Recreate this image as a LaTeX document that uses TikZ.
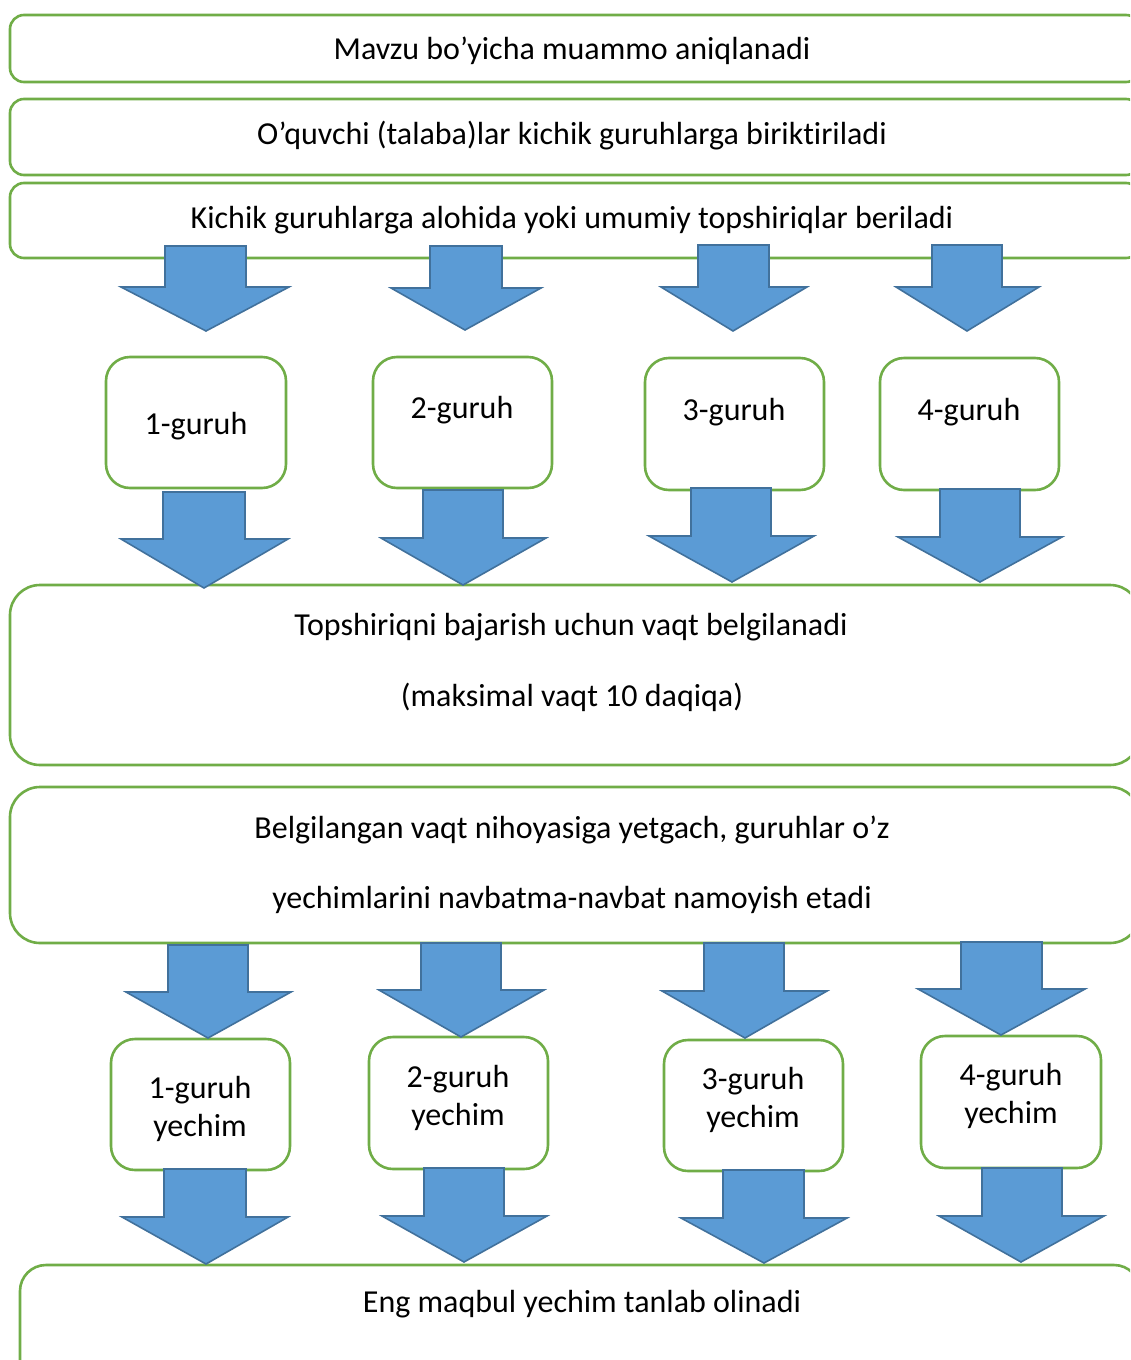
\documentclass[tikz,border=0pt]{standalone}
\usepackage{fontspec}
\setmainfont{Carlito}[Ligatures={NoCommon}]
\definecolor{boxgreen}{HTML}{70AD47}
\definecolor{arrfill}{HTML}{5B9BD5}
\definecolor{arrline}{HTML}{41719C}
\newcommand\barrow[8]{%
  \filldraw[blockarrow] (#1,#5) -- (#2,#5) -- (#2,#6) -- (#4,#6) -- (#7,#8) -- (#3,#6) -- (#1,#6) -- cycle;}
\begin{document}
\begin{tikzpicture}[x=1pt,y=-1pt,
  box/.style={draw=boxgreen,line width=2.6pt,fill=white},
  blockarrow/.style={fill=arrfill,draw=arrline,line width=1.6pt,line join=miter},
  txt/.style={anchor=base,inner sep=0pt,font=\fontsize{32}{38}\selectfont,align=center}]
\useasboundingbox (0,0) rectangle (1130,1360);
\clip (0,0) rectangle (1130,1360);
\fill[white] (0,0) rectangle (1130,1360);
% top boxes
\draw[box,rounded corners=14pt] (10,15) rectangle (1140,82);
\node[txt] (t1) at (572,59) {Mavzu bo’yicha muammo aniqlanadi};
\draw[box,rounded corners=14pt] (10,99) rectangle (1140,175);
\node[txt] (t2) at (572,144) {O’quvchi (talaba)lar kichik guruhlarga biriktiriladi};
\draw[box,rounded corners=14pt] (10,183) rectangle (1140,258);
\node[txt] (t3) at (572,228) {Kichik guruhlarga alohida yoki umumiy topshiriqlar beriladi};
% group boxes row 1
\draw[box,rounded corners=24pt] (106,357) rectangle (286,488);
\node[txt] (g1) at (196,434) {1-guruh};
\draw[box,rounded corners=24pt] (373,357) rectangle (552,488);
\node[txt] (g2) at (462,418) {2-guruh};
\draw[box,rounded corners=24pt] (645,358) rectangle (824,490);
\node[txt] (g3) at (734,420) {3-guruh};
\draw[box,rounded corners=24pt] (880,358) rectangle (1059,490);
\node[txt] (g4) at (969,420) {4-guruh};
% big box 4
\draw[box,rounded corners=30pt] (10,585) rectangle (1140,765);
\node[txt] (t4a) at (571,635) {Topshiriqni bajarish uchun vaqt belgilanadi};
\node[txt] (t4b) at (572,706) {(maksimal vaqt 10 daqiqa)};
% big box 5
\draw[box,rounded corners=30pt] (10,787) rectangle (1140,943);
\node[txt] (t5a) at (572,838) {Belgilangan vaqt nihoyasiga yetgach, guruhlar o’z};
\node[txt] (t5b) at (572,908) {yechimlarini navbatma-navbat namoyish etadi};
% group boxes row 2
\draw[box,rounded corners=24pt] (111,1039) rectangle (290,1170);
\node[txt] (s1a) at (200,1098) {1-guruh};
\node[txt] (s1b) at (200,1136) {yechim};
\draw[box,rounded corners=24pt] (369,1037) rectangle (548,1169);
\node[txt] (s2a) at (458,1087) {2-guruh};
\node[txt] (s2b) at (458,1125) {yechim};
\draw[box,rounded corners=24pt] (664,1040) rectangle (843,1171);
\node[txt] (s3a) at (753,1089) {3-guruh};
\node[txt] (s3b) at (753,1127) {yechim};
\draw[box,rounded corners=24pt] (921,1036) rectangle (1101,1168);
\node[txt] (s4a) at (1011,1085) {4-guruh};
\node[txt] (s4b) at (1011,1123) {yechim};
% final box
\draw[box,rounded corners=26pt] (20,1265) rectangle (1140,1420);
\node[txt] (t6) at (582,1312) {Eng maqbul yechim tanlab olinadi};
% arrows row 1
\barrow{165}{246}{121}{289}{246}{287}{206}{331}
\barrow{430}{502}{391}{541}{246}{288}{465}{330}
\barrow{698}{769}{661}{807}{245}{287}{733}{331}
\barrow{932}{1002}{896}{1039}{245}{287}{967}{331}
% arrows row 2
\barrow{163}{245}{121}{288}{492}{539}{204}{588}
\barrow{423}{503}{381}{546}{490}{538}{463}{585}
\barrow{691}{771}{649}{814}{488}{536}{732}{582}
\barrow{940}{1020}{898}{1062}{489}{537}{980}{582}
% arrows row 3
\barrow{168}{248}{126}{291}{945}{992}{208}{1038}
\barrow{421}{501}{379}{544}{943}{990}{461}{1037}
\barrow{704}{784}{662}{827}{943}{991}{745}{1038}
\barrow{961}{1042}{918}{1085}{942}{989}{1001}{1035}
% arrows row 4
\barrow{164}{246}{122}{288}{1169}{1217}{206}{1264}
\barrow{424}{504}{382}{547}{1168}{1216}{464}{1262}
\barrow{723}{804}{681}{847}{1170}{1218}{764}{1263}
\barrow{982}{1062}{939}{1104}{1168}{1216}{1021}{1262}
\end{tikzpicture}
\end{document}
